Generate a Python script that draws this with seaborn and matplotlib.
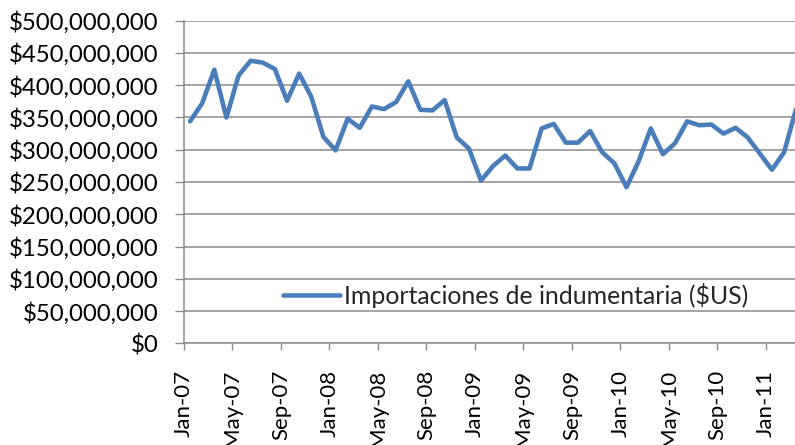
import matplotlib
matplotlib.use("Agg")
import matplotlib.pyplot as plt
import matplotlib.ticker as mticker
import numpy as np
import pandas as pd
import seaborn as sns

# Monthly apparel imports (millions of US$), Jan-07 .. Mar-11
month_names = ["Jan", "Feb", "Mar", "Apr", "May", "Jun",
               "Jul", "Aug", "Sep", "Oct", "Nov", "Dec"]
years = ["07", "08", "09", "10", "11"]
imports_musd = [344, 372, 424, 350, 415, 438, 435, 425, 376, 418, 382, 320,
                299, 348, 334, 367, 363, 374, 406, 362, 361, 377, 319, 302,
                252, 275, 291, 271, 271, 333, 340, 311, 311, 329, 296, 279,
                242, 282, 333, 293, 310, 344, 338, 339, 325, 334, 319, 294,
                269, 296, 364]
months = [f"{m}-{y}" for y in years for m in month_names][:len(imports_musd)]
tick_labels = ["Jan-07", "May-07", "Sep-07", "Jan-08", "May-08", "Sep-08",
               "Jan-09", "May-09", "Sep-09", "Jan-10", "May-10", "Sep-10",
               "Jan-11"]
series_name = "Importaciones de indumentaria ($US)"

df = pd.DataFrame({"month": months, "value": imports_musd})
df["pos"] = np.arange(len(df)) + 0.5  # Excel: points between tick marks

sns.set_style("white")
plt.rcParams["font.family"] = ["Lato", "DejaVu Sans"]

fig = plt.figure(figsize=(7.95, 4.45), dpi=100)
ax = fig.add_axes([184 / 795, 1 - 343.3 / 445, 1 - 184 / 795, (343.3 - 20.7) / 445])

sns.lineplot(data=df, x="pos", y="value", ax=ax, color="#4a7ebb",
             linewidth=3.3, label=series_name, clip_on=True)

ax.set_ylim(0, 500)
ax.set_xlim(0, 50.4)
ax.yaxis.set_major_locator(mticker.MultipleLocator(50))
ax.yaxis.set_major_formatter(mticker.FuncFormatter(lambda v, p: f"${v * 1e6:,.0f}"))
tick_pos = [months.index(t) for t in tick_labels]
ax.set_xticks(tick_pos)
ax.set_xticklabels(tick_labels, rotation=90)
ax.set_xlabel("")
ax.set_ylabel("")

grid_col = "#8c8c8c"
ax.grid(axis="y", color=grid_col, linewidth=1.1)
ax.grid(axis="x", visible=False)
ax.set_axisbelow(True)
for s in ["top", "right"]:
    ax.spines[s].set_visible(False)
for s in ["left", "bottom"]:
    ax.spines[s].set_color(grid_col)
    ax.spines[s].set_linewidth(1.1)

ax.tick_params(axis="y", which="major", direction="out", length=6.5, width=1,
               color=grid_col, pad=12, labelsize=17.3, labelcolor="black", left=True)
ax.tick_params(axis="x", which="major", direction="out", length=5, width=1,
               color=grid_col, pad=14, labelsize=16, labelcolor="black", bottom=True)

leg = ax.legend(loc="center left", bbox_to_anchor=((283 - 184) / 611, (343.3 - 295) / 322.6),
                frameon=False, borderpad=0, borderaxespad=0, handlelength=2.3,
                handletextpad=0.15, fontsize=17.9)
for line in leg.get_lines():
    line.set_linewidth(3.3)

fig.savefig("out.png", dpi=100)
